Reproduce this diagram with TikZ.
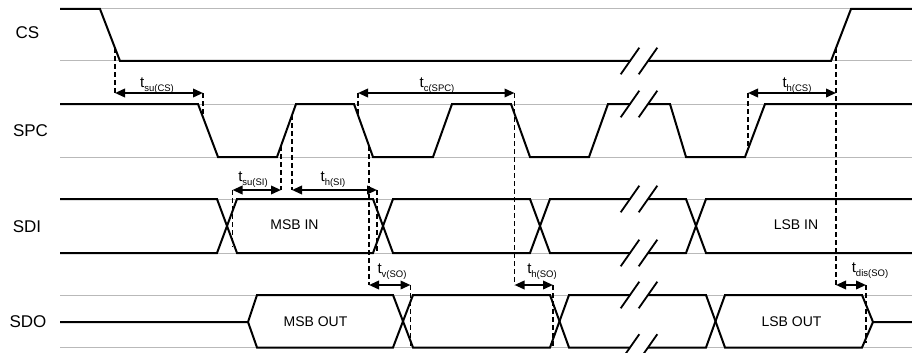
\documentclass[tikz,border=0pt]{standalone}
\usepackage{fontspec}
\setmainfont{Liberation Sans}
\usetikzlibrary{arrows.meta}
\newcommand\tsub[1]{t\raisebox{-4pt}{\fontsize{9.5}{9.5}\selectfont #1}}
\begin{document}
\begin{tikzpicture}[x=1pt,y=-1pt,
  sig/.style={line width=2pt,line join=miter},
  gridline/.style={line width=1pt,draw=gray!55},
  guide/.style={line width=1.8pt,dash pattern=on 5pt off 3pt},
  dim/.style={line width=2pt,{Triangle[length=10pt,width=8.5pt]}-{Triangle[length=10pt,width=8.5pt]}},
  brk/.style={line width=1.8pt},
  gapcover/.style={white,line width=3pt},
  sname/.style={inner sep=0pt,font=\fontsize{17}{17}\selectfont},
  dlabel/.style={inner sep=0pt,font=\fontsize{14}{14}\selectfont},
  tlabel/.style={anchor=base,inner sep=0pt,font=\fontsize{15}{15}\selectfont}]
\fill[white] (0,0) rectangle (912,353);
\useasboundingbox (0,0) rectangle (912,353);
% reference grid lines
\foreach \yy in {9,61,104,157,199,253,295,347.5}
  \draw[gridline] (60,\yy) -- (912,\yy);
% white gaps at the break
\foreach \yy in {61,104,199,253,295,347.5}
  \draw[gapcover] (631,\yy) -- (647,\yy);
% signal names
\node[sname] (csname) at (27.5,33) {CS};
\node[sname] (spcname) at (30.5,131) {SPC};
\node[sname] (sdiname) at (27,227) {SDI};
\node[sname] (sdoname) at (28,322) {SDO};
% CS
\draw[sig] (60,9) -- (100,9) -- (120,61) -- (630,61);
\draw[sig] (648,61) -- (831,61) -- (851,9) -- (912,9);
% SPC
\draw[sig] (60,104) -- (198,104) -- (218,157) -- (277,157) -- (296,104) -- (354,104) -- (373,157) -- (433,157) -- (452,104) -- (511,104) -- (530,157) -- (589,157) -- (608,104) -- (630,104);
\draw[sig] (648,104) -- (670,104) -- (686,157) -- (745,157) -- (765,104) -- (912,104);
% SDI
\draw[sig] (60,199) -- (217,199) -- (237,253) -- (373,253) -- (393,199) -- (530,199) -- (550,253) -- (630,253);
\draw[sig] (60,253) -- (217,253) -- (237,199) -- (373,199) -- (393,253) -- (530,253) -- (550,199) -- (630,199);
\draw[sig] (648,199) -- (686,199) -- (706,253) -- (912,253);
\draw[sig] (648,253) -- (686,253) -- (706,199) -- (912,199);
% SDO
\draw[sig] (60,322) -- (248,322) -- (257,295) -- (393,295) -- (413,347.5) -- (550,347.5) -- (569,295) -- (630,295);
\draw[sig] (248,322) -- (257,347.5) -- (393,347.5) -- (413,295) -- (550,295) -- (569,347.5) -- (630,347.5);
\draw[sig] (648,295) -- (706,295) -- (725,347.5) -- (862,347.5) -- (873,322) -- (912,322);
\draw[sig] (648,347.5) -- (706,347.5) -- (725,295) -- (862,295) -- (873,322);
% break marks
\foreach \yy in {61,104,199,253,295,347.5}
  \foreach \cc in {630,648}
    \draw[brk] (\cc-9.3,\yy+13.3) -- (\cc+9.3,\yy-13.3);
% data labels
\node[dlabel] (msbin) at (294.5,225) {MSB IN};
\node[dlabel] (lsbin) at (796,224.5) {LSB IN};
\node[dlabel] (msbout) at (315.5,322) {MSB OUT};
\node[dlabel] (lsbout) at (791.5,321.5) {LSB OUT};
% guide coordinates
\coordinate (suCSa) at (115,93);   \coordinate (suCSb) at (203,93);
\coordinate (cSPCa) at (358,93);   \coordinate (cSPCb) at (514.5,93);
\coordinate (hCSa) at (748,93);    \coordinate (hCSb) at (836,93);
\coordinate (suSIa) at (232.5,190); \coordinate (suSIb) at (281,190);
\coordinate (hSIa) at (292,190);   \coordinate (hSIb) at (377,190);
\coordinate (vSOa) at (369,285);   \coordinate (vSOb) at (410.5,285);
\coordinate (hSOa) at (514.5,285); \coordinate (hSOb) at (553,285);
\coordinate (disa) at (836,285);   \coordinate (disb) at (866,285);
% dashed guides
\draw[guide] (115,48) -- (suCSa);
\draw[guide] (suCSb) -- (203,117);
\draw[guide] (cSPCa) -- (358,115);
\draw[guide] (cSPCb) -- (hSOa);
\draw[guide] (hCSa) -- (748,149);
\draw[guide] (836,48) -- (disa);
\draw[guide] (281,146) -- (suSIb);
\draw[guide] (292,115) -- (hSIa);
\draw[guide] (suSIa) -- (232.5,247);
\draw[guide] (hSIb) -- (377,251);
\draw[guide] (369,146) -- (vSOa);
\draw[guide] (vSOb) -- (410.5,347);
\draw[guide] (hSOb) -- (553,347);
\draw[guide] (disb) -- (866,343);
% dimension arrows
\draw[dim] (suCSa) -- (suCSb);
\draw[dim] (cSPCa) -- (cSPCb);
\draw[dim] (hCSa) -- (hCSb);
\draw[dim] (suSIa) -- (suSIb);
\draw[dim] (hSIa) -- (hSIb);
\draw[dim] (vSOa) -- (vSOb);
\draw[dim] (hSOa) -- (hSOb);
\draw[dim] (disa) -- (disb);
% timing labels
\node[tlabel] (lsuCS) at (157,87) {\tsub{su(CS)}};
\node[tlabel] (lcSPC) at (437,87) {\tsub{c(SPC)}};
\node[tlabel] (lhCS) at (797,87) {\tsub{h(CS)}};
\node[tlabel] (lsuSI) at (253,181) {\tsub{su(SI)}};
\node[tlabel] (lhSI) at (333,181) {\tsub{h(SI)}};
\node[tlabel] (lvSO) at (392,273) {\tsub{v(SO)}};
\node[tlabel] (lhSO) at (542,273) {\tsub{h(SO)}};
\node[tlabel] (ldis) at (870,272) {\tsub{dis(SO)}};
\end{tikzpicture}
\end{document}
